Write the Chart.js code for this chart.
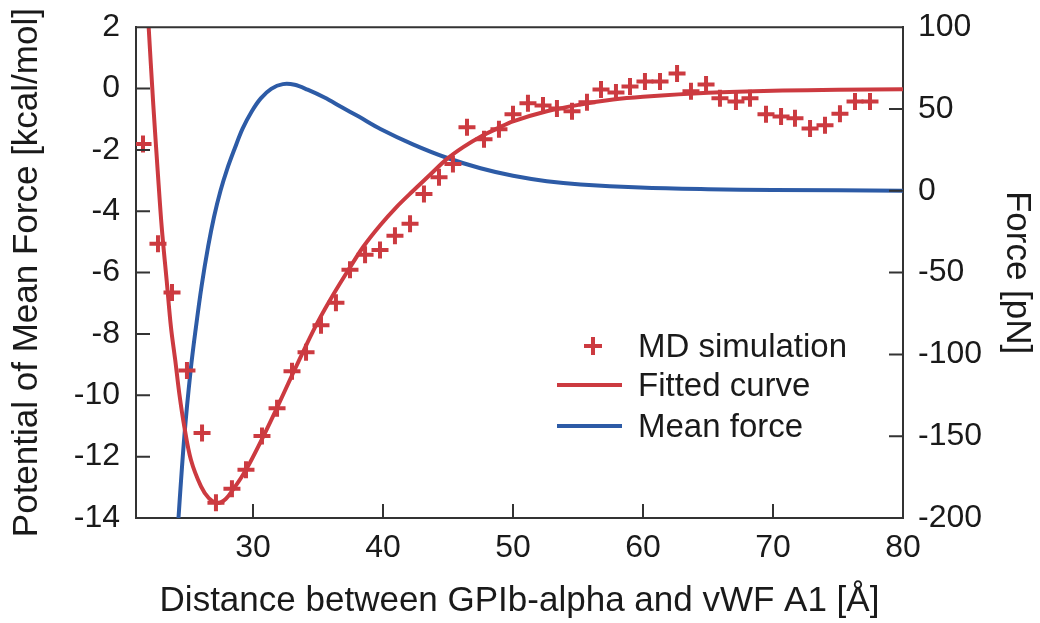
<!DOCTYPE html>
<html lang="en">
<head>
  <meta charset="UTF-8">
  <title>PMF and mean force</title>
  <script src="https://cdn.jsdelivr.net/npm/chart.js"></script>
  <style>
    body {
      margin: 0;
      background: #fff;
      font-family: 'Liberation Sans', Arial, sans-serif;
    }
    .wrap {
      position: relative;
      width: 1040px;
      height: 623px;
    }
    .legend {
      position: absolute;
      left: 0;
      top: 0;
      color: #1a1a1a;
      font-size: 33px;
    }
    .legend .row {
      position: absolute;
      left: 557px;
      width: 330px;
      height: 40px;
    }
    .legend .label {
      position: absolute;
      left: 81px;
      top: 50%;
      transform: translateY(-50%);
      white-space: nowrap;
    }
    .legend .swatch {
      position: absolute;
      left: 0;
      top: 50%;
      width: 65px;
      height: 4px;
      margin-top: -2px;
    }
    .legend .cross {
      position: absolute;
      left: 27px;
      top: 50%;
      width: 18px;
      height: 18px;
      margin-top: -9px;
    }
    .legend .cross::before, .legend .cross::after {
      content: '';
      position: absolute;
      background: #cc3a40;
    }
    .legend .cross::before { left: 0; top: 7px; width: 18px; height: 4px; }
    .legend .cross::after { left: 7px; top: 0; width: 4px; height: 18px; }
  </style>
</head>
<body>
  <div class="wrap">
    <canvas id="pmfChart" width="1040" height="623"></canvas>
    <div class="legend">
      <div class="row" style="top: 326px;"><div class="cross"></div><span class="label">MD simulation</span></div>
      <div class="row" style="top: 365px;"><div class="swatch" style="background:#cc3a40"></div><span class="label">Fitted curve</span></div>
      <div class="row" style="top: 406px;"><div class="swatch" style="background:#2d5ba6"></div><span class="label">Mean force</span></div>
    </div>
  </div>

  <script>
    // MD simulation points (distance in Å, PMF in kcal/mol)
    const mdDistance = [21.54, 22.69, 23.77, 24.92, 26.08, 27.15, 28.38, 29.46, 30.69, 31.85,
      33.0, 34.08, 35.23, 36.38, 37.46, 38.62, 39.77, 40.92, 42.08, 43.15,
      44.31, 45.38, 46.46, 47.77, 48.92, 50.0, 51.15, 52.31, 53.38, 54.54,
      55.69, 56.77, 57.92, 59.0, 60.15, 61.31, 62.62, 63.69, 64.85, 65.92,
      67.15, 68.23, 69.46, 70.62, 71.69, 72.85, 74.0, 75.15, 76.31, 77.46];
    const mdPmf = [-1.81, -5.06, -6.65, -9.19, -11.23, -13.5, -13.05, -12.43, -11.33, -10.42,
      -9.22, -8.6, -7.72, -6.98, -5.91, -5.42, -5.26, -4.8, -4.41, -3.44,
      -2.89, -2.46, -1.26, -1.65, -1.33, -0.84, -0.48, -0.55, -0.65, -0.74,
      -0.45, -0.03, -0.13, 0.07, 0.23, 0.23, 0.49, -0.09, 0.13, -0.32,
      -0.42, -0.32, -0.84, -0.91, -0.97, -1.3, -1.2, -0.82, -0.42, -0.42];

    // fitted curve
    const fitDistance = [21.6, 21.95, 22.33, 22.67, 22.98, 23.36, 23.69, 24.02, 24.33, 24.72,
      25.23, 26.0, 26.6, 27.3, 27.9, 28.5, 29.1, 29.7, 30.7, 31.8,
      33.0, 34.0, 35.0, 36.2, 37.3, 38.5, 39.8, 41.0, 42.3, 43.6,
      44.9, 46.2, 47.5, 48.8, 50.0, 52.6, 55.2, 57.7, 60.0, 65.0,
      70.0, 75.0, 80.0];
    const fitPmf = [4.8, 2.18, -0.53, -2.69, -4.53, -6.26, -7.78, -8.86, -9.94, -11.03,
      -12.11, -12.97, -13.35, -13.51, -13.38, -13.05, -12.68, -12.25, -11.42, -10.45,
      -9.35, -8.45, -7.6, -6.7, -5.94, -5.15, -4.45, -3.88, -3.34, -2.82,
      -2.3, -1.9, -1.57, -1.3, -1.07, -0.74, -0.52, -0.36, -0.27, -0.14,
      -0.07, -0.04, -0.02];

    // mean force (pN), right axis
    const forceDistance = [24.0, 24.26, 24.72, 25.2, 25.6, 26.05, 26.55, 27.0, 27.5, 28.0,
      28.6, 29.2, 29.9, 30.6, 31.4, 32.3, 33.2, 34.2, 35.5, 36.8,
      38.1, 39.8, 42.3, 44.9, 47.5, 50.0, 52.6, 55.2, 59.8, 65.0,
      70.0, 80.0];
    const meanForce = [-235, -201, -150, -110, -84, -58, -34, -16, 0, 13,
      26, 38, 48.5, 56.5, 62.3, 65.2, 64.8, 61.8, 57.0, 51.2,
      45.5, 37.8, 28.4, 20.2, 13.8, 9.2, 5.9, 3.9, 2.0, 1.0,
      0.5, 0.1];

    const xTicks = [30, 40, 50, 60, 70, 80];
    const pmfTicks = [2, 0, -2, -4, -6, -8, -10, -12, -14];
    const forceTicks = [100, 50, 0, -50, -100, -150, -200];

    const RED = '#cc3a40';
    const BLUE = '#2d5ba6';
    const INK = '#1a1a1a';
    const AXIS = '#333';

    const toPoints = (xs, ys) => xs.map((x, i) => ({ x: x, y: ys[i] }));

    // ticks drawn inside the frame, plus the top edge of the box
    const frameTicks = {
      id: 'frameTicks',
      afterDraw(chart) {
        const { ctx, chartArea: a, scales } = chart;
        const len = 14;
        ctx.save();
        ctx.strokeStyle = AXIS;
        ctx.lineWidth = 2;
        ctx.beginPath();
        ctx.moveTo(a.left - 1, a.top);
        ctx.lineTo(a.right + 1, a.top);
        scales.x.ticks.forEach(t => {
          const px = scales.x.getPixelForValue(t.value);
          ctx.moveTo(px, a.bottom);
          ctx.lineTo(px, a.bottom - len);
        });
        scales.y.ticks.forEach(t => {
          const py = scales.y.getPixelForValue(t.value);
          ctx.moveTo(a.left, py);
          ctx.lineTo(a.left + len, py);
        });
        scales.y2.ticks.forEach(t => {
          const py = scales.y2.getPixelForValue(t.value);
          ctx.moveTo(a.right, py);
          ctx.lineTo(a.right - len, py);
        });
        ctx.stroke();
        ctx.restore();
      }
    };

    const tickFont = { family: "'Liberation Sans', Arial, sans-serif", size: 32 };
    const titleFont = { family: "'Liberation Sans', Arial, sans-serif", size: 35, lineHeight: 1 };
    const border = { display: true, color: AXIS, width: 2 };

    new Chart(document.getElementById('pmfChart'), {
      type: 'scatter',
      data: {
        datasets: [
          {
            label: 'MD simulation',
            data: toPoints(mdDistance, mdPmf),
            yAxisID: 'y',
            showLine: false,
            pointStyle: 'cross',
            pointRadius: 8.5,
            pointBorderWidth: 4,
            borderColor: RED,
            backgroundColor: RED
          },
          {
            label: 'Fitted curve',
            data: toPoints(fitDistance, fitPmf),
            yAxisID: 'y',
            showLine: true,
            pointRadius: 0,
            borderWidth: 4,
            borderColor: RED,
            tension: 0.35
          },
          {
            label: 'Mean force',
            data: toPoints(forceDistance, meanForce),
            yAxisID: 'y2',
            showLine: true,
            pointRadius: 0,
            borderWidth: 4,
            borderColor: BLUE,
            tension: 0.35
          }
        ]
      },
      options: {
        responsive: false,
        animation: false,
        devicePixelRatio: 1,
        layout: { padding: { top: 25, left: 0, right: 0, bottom: 0 } },
        plugins: {
          legend: { display: false },
          tooltip: { enabled: false }
        },
        scales: {
          x: {
            type: 'linear',
            min: 21,
            max: 80,
            afterBuildTicks: s => { s.ticks = xTicks.map(v => ({ value: v })); },
            afterFit: s => { s.height = 105; },
            grid: { display: false },
            border: border,
            ticks: { font: tickFont, color: INK, padding: 3, maxRotation: 0 },
            title: {
              display: true,
              text: 'Distance between GPIb-alpha and vWF A1 [Å]',
              font: titleFont,
              color: INK,
              padding: { top: 0, bottom: 4 }
            }
          },
          y: {
            type: 'linear',
            position: 'left',
            min: -14,
            max: 2,
            afterBuildTicks: s => { s.ticks = pmfTicks.map(v => ({ value: v })); },
            afterFit: s => { s.width = 136; },
            grid: { display: false },
            border: border,
            ticks: { font: tickFont, color: INK, padding: 8 },
            title: {
              display: true,
              text: 'Potential of Mean Force [kcal/mol]',
              font: titleFont,
              color: INK,
              padding: { top: 10, bottom: 0 }
            }
          },
          y2: {
            type: 'linear',
            position: 'right',
            min: -200,
            max: 100,
            afterBuildTicks: s => { s.ticks = forceTicks.map(v => ({ value: v })); },
            afterFit: s => { s.width = 137; },
            grid: { display: false },
            border: border,
            ticks: { font: tickFont, color: INK, padding: 7 },
            title: {
              display: true,
              text: 'Force [pN]',
              font: titleFont,
              color: INK,
              padding: { top: 6, bottom: 0 }
            }
          }
        }
      },
      plugins: [frameTicks]
    });
  </script>
</body>
</html>
